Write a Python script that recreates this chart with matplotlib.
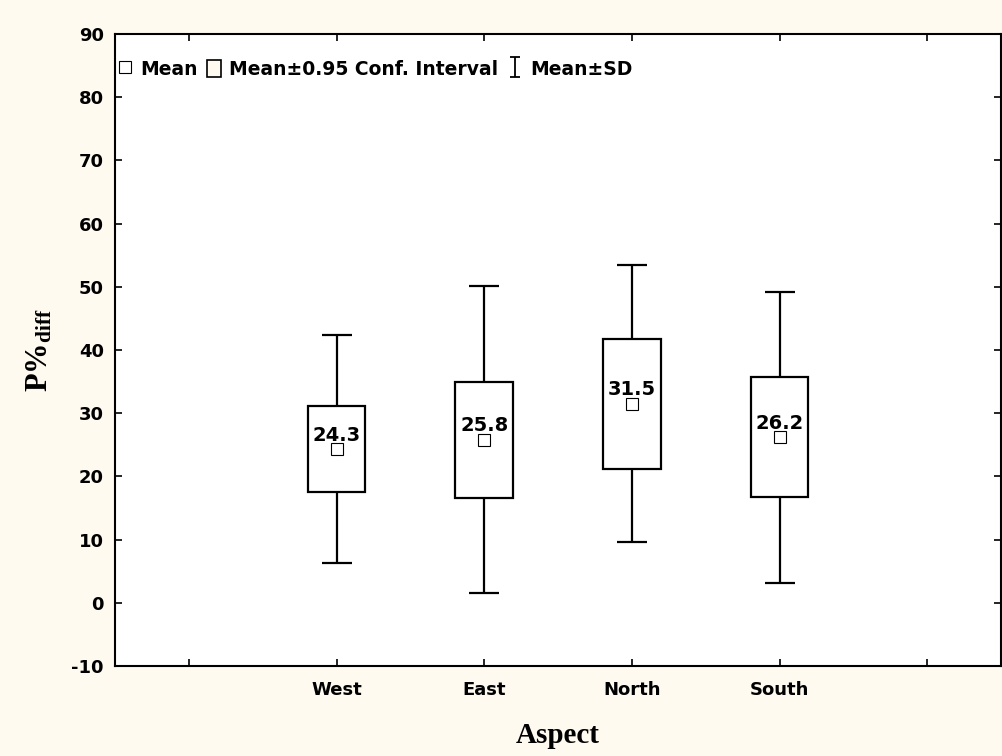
import matplotlib
matplotlib.use('Agg')
import matplotlib.pyplot as plt
from matplotlib.lines import Line2D
from matplotlib.patches import Patch
from matplotlib.path import Path

# Data
aspects = ['West', 'East', 'North', 'South']
means = [24.3, 25.8, 31.5, 26.2]
ci95 = [6.8, 9.2, 10.3, 9.5]
sd = [18.0, 24.3, 21.9, 23.0]

bg = '#FFFAF0'
plt.rcParams['mathtext.fontset'] = 'custom'
plt.rcParams['mathtext.rm'] = 'Liberation Serif:bold'
plt.rcParams['mathtext.it'] = 'Liberation Serif:bold'
plt.rcParams['mathtext.bf'] = 'Liberation Serif:bold'

fig = plt.figure(figsize=(10.03, 7.56), dpi=100, facecolor=bg)
ax = fig.add_axes([0.1147, 0.119, 0.8833, 0.836])

x = [2, 3, 4, 5]

# SD whiskers
ax.errorbar(x, means, yerr=sd, fmt='none', ecolor='black', elinewidth=1.6,
            capsize=11, capthick=1.6, zorder=1)
# CI boxes
lo = [m - c for m, c in zip(means, ci95)]
ax.bar(x, [2 * c for c in ci95], bottom=lo, width=0.39, facecolor='white',
       edgecolor='black', linewidth=1.6, zorder=2)
# means
ax.plot(x, means, linestyle='none', marker='s', markersize=8,
        markerfacecolor='white', markeredgecolor='black', markeredgewidth=0.8, zorder=3)
for xi, m in zip(x, means):
    ax.annotate(f'{m:.1f}', (xi, m), xytext=(0, 6), textcoords='offset points',
                ha='center', va='baseline', fontsize=14, fontweight='bold', zorder=4)

ax.set_xlim(0.5, 6.5)
ax.set_ylim(-10, 90)
ax.set_xticks([1, 2, 3, 4, 5, 6])
ax.set_xticklabels([''] + aspects + [''], fontsize=13, fontweight='bold')
ax.set_yticks(range(-10, 91, 10))
ax.set_yticklabels([str(v) for v in range(-10, 91, 10)], fontsize=13, fontweight='bold')
ax.tick_params(direction='in', length=5, width=1.2, top=True, right=True, pad=8)
ax.tick_params(axis='x', pad=11)
for s in ax.spines.values():
    s.set_linewidth(1.5)

ax.set_xlabel('Aspect', fontsize=21, fontweight='bold', family='Liberation Serif', labelpad=16)
ax.set_ylabel(r'P%$_{\mathrm{diff}}$', fontsize=22, fontweight='bold', family='Liberation Serif',
              labelpad=12)

# legend
ibeam = Path([(-0.5, 1), (0.5, 1), (0, 1), (0, -1), (-0.5, -1), (0.5, -1)],
             [Path.MOVETO, Path.LINETO, Path.MOVETO, Path.LINETO, Path.MOVETO, Path.LINETO])
handles = [
    Line2D([], [], linestyle='none', marker='s', markersize=8.5, markerfacecolor='white',
           markeredgecolor='black', markeredgewidth=0.8),
    Patch(facecolor=bg, edgecolor='black', linewidth=1.2),
    Line2D([], [], linestyle='none', marker=ibeam, markersize=15, markerfacecolor='none',
           markeredgecolor='black', markeredgewidth=1.3),
]
ax.legend(handles, ['Mean', 'Mean±0.95 Conf. Interval', 'Mean±SD'], ncol=3,
          loc='upper left', bbox_to_anchor=(-0.012, 0.98), frameon=False,
          handlelength=0.75, handleheight=1.07, handletextpad=0.45, columnspacing=0.5,
          borderaxespad=0.3, prop={'size': 13.5, 'weight': 'bold'})

fig.savefig('out.png', dpi=100, facecolor=bg)
